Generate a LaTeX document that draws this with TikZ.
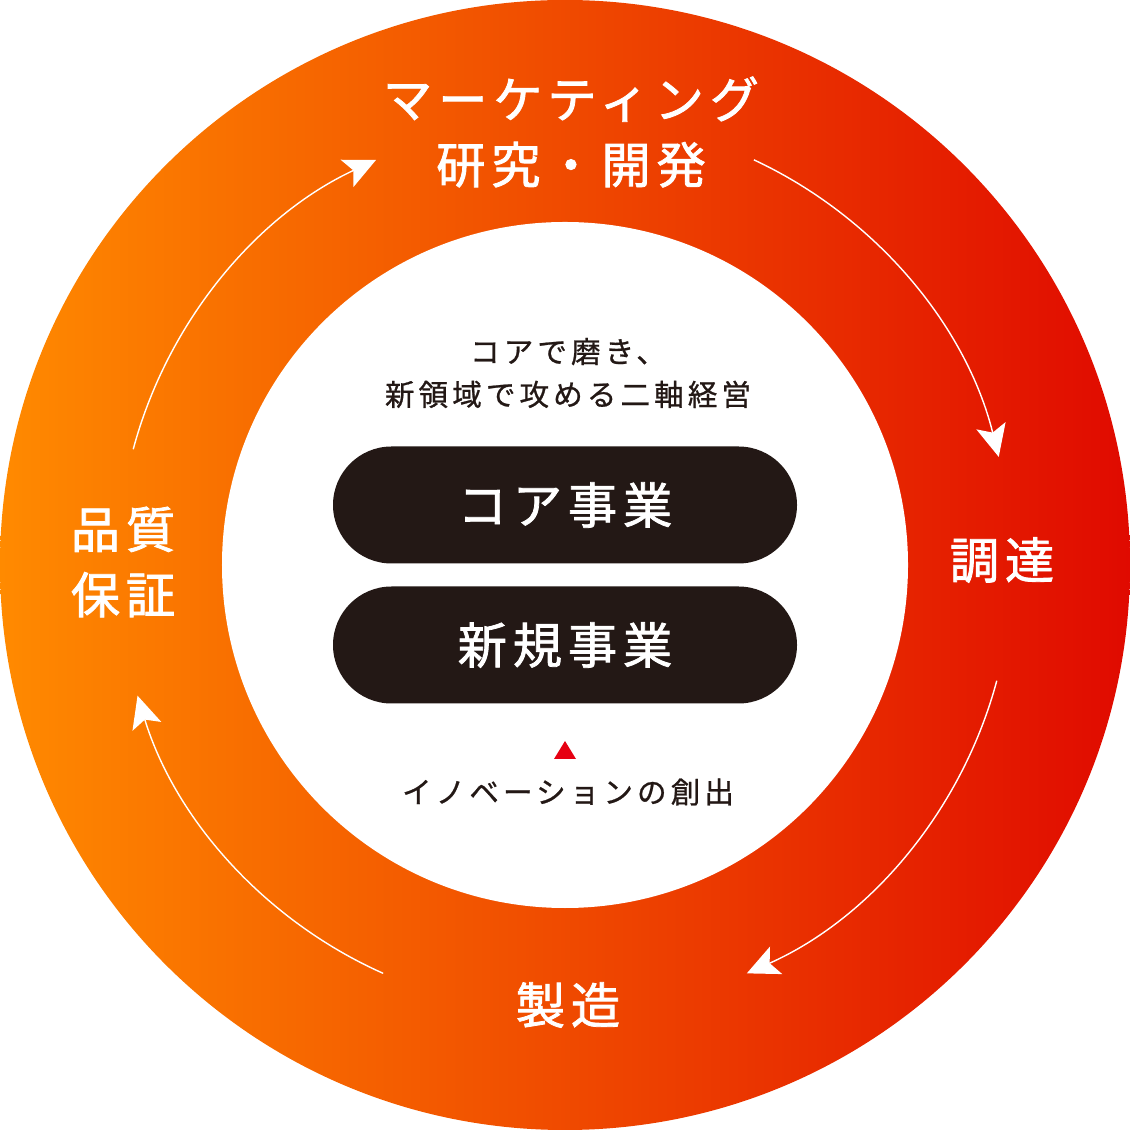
\documentclass[tikz,border=0pt]{standalone}
\usepackage{fontspec}
\usetikzlibrary{arrows.meta}
\newfontfamily\cjk{Noto Sans CJK JP}
\newfontfamily\cjkring{Noto Sans CJK JP}[LetterSpace=12,FakeBold=1.6]
\newfontfamily\cjksmall{Noto Sans CJK JP}[LetterSpace=14,FakeBold=0.8]
\definecolor{ringorange}{HTML}{FF8A00}
\definecolor{ringred}{HTML}{E00A00}
\definecolor{pillblack}{HTML}{231815}
\definecolor{markred}{HTML}{E60012}

\begin{document}
\begin{tikzpicture}[
    ringlabel/.style={text=white,font=\cjkring\fontsize{14pt}{18.6pt}\selectfont,align=center},
    pill/.style={fill=pillblack,rounded corners=0.585cm,minimum width=4.64cm,minimum height=1.17cm,
        text=white,font=\cjkring\fontsize{14pt}{16pt}\selectfont},
    smalltext/.style={text=pillblack,font=\cjksmall\fontsize{8.4pt}{12.2pt}\selectfont,align=center},
    cycle/.style={white,line width=0.4pt,-{Stealth[length=3.2mm,width=3mm,inset=0.7mm]}}]
        \useasboundingbox (-5.65,-5.65) rectangle (5.65,5.65);
        \coordinate (O) at (0,0);
        % ring
        \shade[left color=ringorange,right color=ringred] (O) circle (5.65);
        \fill[white] (O) circle (3.43);

        % steps on the ring
        \node[ringlabel] (mk) at (0.06,4.33) {マーケティング\\研究・開発};
        \node[ringlabel] (buy) at (4.37,0.05) {調達};
        \node[ringlabel] (make) at (0.03,-4.40) {製造};
        \node[ringlabel] (qa) at (-4.42,0.03) {品質\\保証};

        % arcs between the steps
        \coordinate (tl) at (165:4.47);
        \coordinate (tr) at (65:4.47);
        \coordinate (br) at (-15:4.47);
        \coordinate (bl) at (246:4.47);
        \draw[cycle] (tl) arc[start angle=165,end angle=115,radius=4.47];
        \draw[cycle] (tr) arc[start angle=65,end angle=14,radius=4.47];
        \draw[cycle] (br) arc[start angle=-15,end angle=-66,radius=4.47];
        \draw[cycle] (bl) arc[start angle=246,end angle=197,radius=4.47];

        % centre
        \node[smalltext] (head) at (0.03,1.92) {コアで磨き、\\新領域で攻める二軸経営};
        \node[pill] (core) at (0,0.60) {コア事業};
        \node[pill] (new) at (0,-0.80) {新規事業};
        \fill[markred] (-0.11,-1.94) -- (0.11,-1.94) -- (0,-1.76) -- cycle;
        \node[smalltext] (inno) at (0.03,-2.27) {イノベーションの創出};
\end{tikzpicture}
\end{document}
